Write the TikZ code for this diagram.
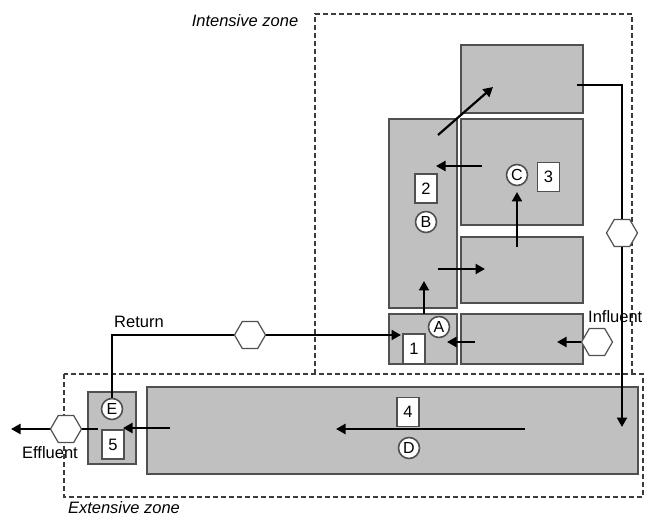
\documentclass[tikz,border=0pt]{standalone}
\usepackage{fontspec}
\setmainfont{Liberation Sans}
\usetikzlibrary{arrows.meta,shapes.geometric}
\definecolor{boxfill}{RGB}{192,192,192}
\definecolor{boxline}{RGB}{80,80,80}
\definecolor{zoneline}{RGB}{60,60,60}
\tikzset{
  tank/.style={draw=boxline,fill=boxfill,line width=1.2pt,minimum width=#1,inner sep=0pt},
  numlabel/.style={draw=boxline,fill=white,line width=1.1pt,minimum width=22pt,minimum height=29pt,inner sep=0pt,font=\fontsize{16.5}{18}\selectfont},
  letter/.style={circle,draw=boxline,fill=white,line width=1.6pt,minimum size=21pt,inner sep=0pt,font=\fontsize{16}{17}\selectfont},
  hexa/.style={regular polygon,regular polygon sides=6,draw=boxline,fill=white,line width=1.2pt,minimum size=31pt,inner sep=0pt},
  flow/.style={line width=2.2pt,-{Triangle[length=9.5pt,width=10pt]}},
  pipe/.style={line width=2.1pt},
  zone/.style={draw=zoneline,line width=1.3pt,dash pattern=on 5pt off 3pt},
  txt/.style={font=\fontsize{16.5}{19}\selectfont,inner sep=0pt},
  ztxt/.style={font=\fontsize{16.5}{19}\selectfont\itshape,inner sep=0pt}
}
\begin{document}
\begin{tikzpicture}[x=1pt,y=-1pt]
\useasboundingbox (0,0) rectangle (649,516);
% zones
\draw[zone] (315,374) -- (315,14) -- (632,14) -- (632,374);
\draw[zone] (64,374) rectangle (643,497);
\node[ztxt] (lint) at (245,21) {Intensive zone};
\node[ztxt] (lext) at (124,508) {Extensive zone};
% tanks
\node[tank=122pt,minimum height=68pt] (top) at (522,79) {};
\node[tank=122pt,minimum height=106pt] (b3) at (522,172) {};
\node[tank=68pt,minimum height=189pt] (b2) at (423,213.5) {};
\node[tank=122pt,minimum height=66pt] (r2) at (522,270) {};
\node[tank=68pt,minimum height=50pt] (b1) at (423,339) {};
\node[tank=122pt,minimum height=50pt] (r1) at (522,339) {};
\node[tank=491pt,minimum height=87pt] (b4) at (392.5,430.5) {};
\node[tank=48pt,minimum height=72pt] (b5) at (112,428) {};
% number labels
\node[numlabel,minimum height=30pt] (n1) at (414,349) {1};
\node[numlabel] (n2) at (426,188.5) {2};
\node[numlabel] (n3) at (548.5,177) {3};
\node[numlabel] (n4) at (408,412) {4};
\node[numlabel] (n5) at (113,444.5) {5};
% letters
\node[letter] (cA) at (439,327) {A};
\node[letter] (cB) at (426,222) {B};
\node[letter] (cC) at (517,175) {C};
\node[letter] (cD) at (409,448) {D};
\node[letter] (cE) at (112,409) {E};
% hexagons
\node[hexa] (hin) at (597,342) {};
\node[hexa] (hv) at (622,233) {};
\node[hexa] (hr) at (250,335) {};
\node[hexa] (he) at (66,429) {};
% coordinates
\coordinate (a1s) at (438,135); \coordinate (a1e) at (493,87);
\coordinate (a2s) at (482,166); \coordinate (a2e) at (436,166);
\coordinate (a3s) at (517,247); \coordinate (a3e) at (517,192);
\coordinate (a4s) at (438,269); \coordinate (a4e) at (485,269);
\coordinate (a5s) at (424,314); \coordinate (a5e) at (424,281);
\coordinate (a6s) at (475,342); \coordinate (a6e) at (447,342);
\coordinate (a7e) at (557,342);
\coordinate (a8s) at (525,429); \coordinate (a8e) at (336,429);
\coordinate (a9s) at (170,428); \coordinate (a9e) at (123,428);
\coordinate (tops) at (577,85);
\coordinate (downend) at (622,427);
\coordinate (retcorner) at (112,335);
\coordinate (retend) at (401,335);
\coordinate (effs) at (98,429);
\coordinate (effend) at (11,429);
% flows
\draw[flow] (a1s) -- (a1e);
\draw[flow] (a2s) -- (a2e);
\draw[flow] (a3s) -- (a3e);
\draw[flow] (a4s) -- (a4e);
\draw[flow] (a5s) -- (a5e);
\draw[flow] (a6s) -- (a6e);
\draw[flow] (hin.west) -- (a7e);
\draw[flow] (a8s) -- (a8e);
\draw[flow] (a9s) -- (a9e);
\draw[pipe] (tops) -| (hv.north);
\draw[flow] (hv.south) -- (downend);
\draw[pipe] (cE.north) -- (retcorner) -- (hr.west);
\draw[flow] (hr.east) -- (retend);
\draw[pipe] (effs) -- (he.east);
\draw[flow] (he.west) -- (effend);
% texts
\node[txt] (lret) at (139,322) {Return};
\node[txt,anchor=west] (linf) at (588,317) {Influent};
\node[txt] (leff) at (50,453) {Effluent};
\end{tikzpicture}
\end{document}
